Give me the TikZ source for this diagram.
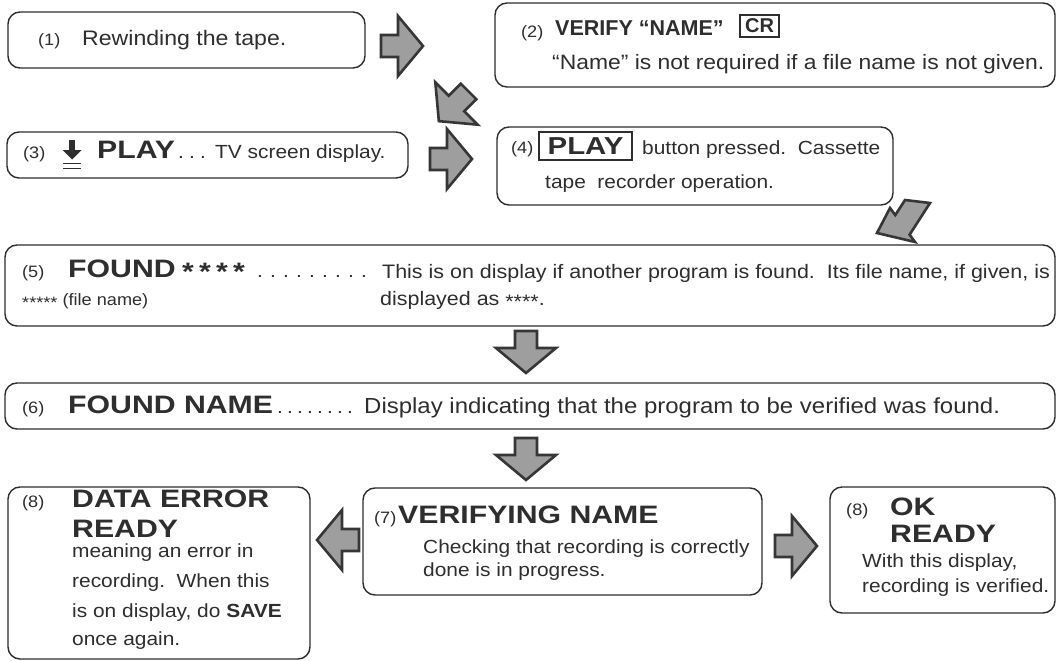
\documentclass[tikz,border=0pt]{standalone}
\usepackage{fontspec}
\setmainfont{Liberation Sans}[FakeStretch=1.1]
\newfontfamily\hfont{Liberation Sans}[FakeStretch=1.2]
\newfontfamily\nfont{Liberation Sans}
\definecolor{ink}{HTML}{2E2E2E}
\definecolor{arrfill}{HTML}{9E9E9E}
\definecolor{arredge}{HTML}{363636}
\newcommand\dotrow[2]{\foreach \k in {1,...,#1}{\makebox[#2][l]{.}}}
\newcommand\st{\raisebox{-3.5pt}{*}}
\tikzset{
  box/.style={draw=ink, line width=1.4pt, rounded corners=12pt, inner sep=0pt},
  keybox/.style={draw=ink, line width=1.1pt, inner sep=0pt, text=ink},
  txt/.style={anchor=base west, inner sep=0pt, text=ink, font=\fontsize{19}{22}\selectfont},
  num/.style={anchor=base west, inner sep=0pt, text=ink, font=\fontsize{16.5}{19}\selectfont},
  head/.style={anchor=base west, inner sep=0pt, text=ink, font=\hfont\bfseries\fontsize{25.2}{28}\selectfont},
  flowarrow/.style={fill=arrfill, draw=arredge, line width=2.6pt, line join=miter},
  blockarrow/.pic={\draw[flowarrow] (-21,-11) -- (-4,-11) -- (-4,-30) -- (21,0) -- (-4,30) -- (-4,11) -- (-21,11) -- cycle;}
}
\begin{document}
\begin{tikzpicture}[x=1pt,y=-1pt]
\useasboundingbox[fill=white] (0,0) rectangle (1058,661);

% boxes
\node[box, minimum width=357pt, minimum height=56pt] (b1) at (186.5,40) {};
\node[box, minimum width=560pt, minimum height=84pt] (b2) at (775,45) {};
\node[box, minimum width=401pt, minimum height=46pt] (b3) at (207.5,155) {};
\node[box, minimum width=396pt, minimum height=78pt] (b4) at (695,166) {};
\node[box, minimum width=1050pt, minimum height=81pt] (b5) at (530,285.5) {};
\node[box, minimum width=1050pt, minimum height=46pt] (b6) at (530,406) {};
\node[box, minimum width=399pt, minimum height=107pt] (b7) at (562.5,541.5) {};
\node[box, minimum width=302pt, minimum height=172pt] (b8l) at (159,573) {};
\node[box, minimum width=225pt, minimum height=126pt] (b8r) at (942.5,550) {};

% arrows
\pic at (402,46) {blockarrow};
\pic[rotate=-135] at (453.7,106.3) {blockarrow};
\pic at (451,159) {blockarrow};
\draw[flowarrow] (905,200) -- (895.3,215.1) -- (890,208) -- (877,233) -- (915,242) -- (909.6,234.7) -- (930,203) -- cycle;
\pic[rotate=-90] at (526,352) {blockarrow};
\pic[rotate=-90] at (526,459) {blockarrow};
\pic[rotate=180] at (338,540) {blockarrow};
\pic at (796,546) {blockarrow};

% (1)
\node[num] (n1) at (38,46) {(1)};
\node[txt, font=\fontsize{21}{24}\selectfont] (t1) at (82,46) {Rewinding the tape.};

% (2)
\node[num] (n2) at (521,38) {(2)};
\node[anchor=base west, inner sep=0pt, text=ink, font=\nfont\bfseries\fontsize{21.5}{24}\selectfont] (h2) at (555,36) {VERIFY “NAME”};
\node[keybox, minimum width=39pt, minimum height=22pt, font=\nfont\bfseries\fontsize{20}{22}\selectfont] (cr) at (759.5,26) {CR};
\node[txt, font=\fontsize{20.8}{24}\selectfont] (t2) at (552,70) {“Name” is not required if a file name is not given.};

% (3)
\node[num] (n3) at (23,158) {(3)};
\fill[ink] (69.2,140) rectangle (74.8,151);
\fill[ink] (62.5,150) -- (81.5,150) -- (72,159.5) -- cycle;
\draw[ink, line width=1.8pt] (63,163.5) -- (81,163.5) (63,168.5) -- (81,168.5);
\node[head] (h3) at (97,158) {PLAY};
\node[txt] (d3) at (178,158) {\dotrow{3}{11pt}};
\node[txt] (t3) at (215,158) {TV screen display.};

% (4)
\node[num] (n4) at (511,153) {(4)};
\node[keybox, minimum width=93pt, minimum height=28pt, font=\hfont\bfseries\fontsize{24.5}{28}\selectfont] (play) at (585.5,146) {PLAY};
\node[txt] (t4a) at (642,154) {button pressed.\ \ Cassette};
\node[txt] (t4b) at (545,188) {tape\ \ recorder operation.};

% (5)
\node[num] (n5) at (22,277) {(5)};
\node[head] (h5) at (68,277) {FOUND};
\node[head] (s5) at (182,277) {\makebox[17pt][l]{\st}\makebox[17pt][l]{\st}\makebox[17pt][l]{\st}\makebox[17pt][l]{\st}};
\node[txt] (d5) at (257,277) {\dotrow{9}{13pt}};
\node[txt, font=\fontsize{19.5}{22}\selectfont] (t5a) at (382,278) {This is on display if another program is found.\ \ Its file name, if given, is};
\node[num] (f5) at (22,305) {\st\st\st\st\st\ (file name)};
\node[txt, font=\fontsize{19.5}{22}\selectfont] (t5b) at (380,305) {displayed as \st\st\st\st.};

% (6)
\node[num] (n6) at (22,413) {(6)};
\node[head] (h6) at (68,413) {FOUND NAME};
\node[txt] (d6) at (277,413) {\dotrow{8}{10pt}};
\node[txt, font=\fontsize{21.8}{24}\selectfont] (t6) at (364,413) {Display indicating that the program to be verified was found.};

% (7)
\node[num] (n7) at (374,523) {(7)};
\node[head] (h7) at (398,523) {VERIFYING NAME};
\node[txt] (t7a) at (423,553) {Checking that recording is correctly};
\node[txt] (t7b) at (423,576) {done is in progress.};

% (8) left
\node[num] (n8l) at (22,507) {(8)};
\node[head] (h8la) at (72,507) {DATA ERROR};
\node[head] (h8lb) at (72,537) {READY};
\node[txt] (t8la) at (72,557) {meaning an error in};
\node[txt] (t8lb) at (72,587) {recording.\ \ When this};
\node[txt] (t8lc) at (72,617) {is on display, do \textbf{SAVE}};
\node[txt] (t8ld) at (72,645) {once again.};

% (8) right
\node[num] (n8r) at (846,515) {(8)};
\node[head] (h8ra) at (890,515) {OK};
\node[head] (h8rb) at (890,542) {READY};
\node[txt] (t8ra) at (862,567) {With this display,};
\node[txt] (t8rb) at (862,592) {recording is verified.};
\end{tikzpicture}
\end{document}
